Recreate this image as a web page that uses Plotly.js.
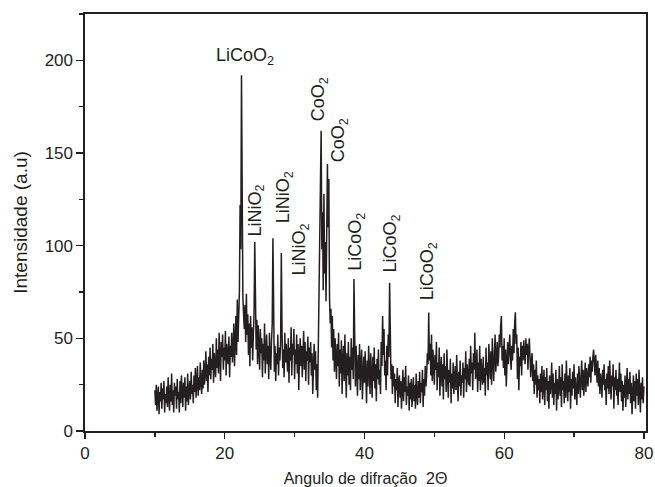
<!DOCTYPE html>
<html>
<head>
<meta charset="utf-8">
<script src="https://cdn.plot.ly/plotly-3.0.1.min.js"></script>
<style>html,body{margin:0;padding:0;background:#fff;}#chart{width:655px;height:487px;}</style>
</head>
<body>
<div id="chart"></div>
<script>
// Diffraction angle sampling (2θ, degrees)
const startAngle = 10;
const angleStep = 0.1;

// Intensity values, one row per degree (10.0 .. 80.0, step 0.1)
const intensity = [
  22, 14, 25, 11, 19, 24, 9, 21, 16, 26,
  12, 23, 17, 27, 10, 20, 15, 24, 13, 29,
  18, 11, 25, 16, 31, 14, 22, 10, 26, 19,
  24, 12, 28, 17, 21, 10, 27, 15, 30, 20,
  13, 26, 18, 29, 11, 24, 16, 31, 14, 22,
  27, 17, 32, 20, 25, 15, 30, 21, 34, 18,
  24, 35, 19, 29, 22, 37, 26, 20, 33, 23,
  38, 25, 31, 43, 27, 36, 21, 40, 30, 45,
  28, 39, 33, 47, 26, 42, 35, 29, 50, 34,
  44, 31, 53, 37, 27, 48, 40, 52, 33, 45,
  38, 54, 30, 47, 42, 36, 51, 29, 46, 40,
  53, 37, 44, 58, 35, 49, 62, 41, 71, 48,
  58, 75, 122, 98, 192, 115, 72, 63, 55, 68,
  48, 74, 52, 63, 41, 58, 35, 62, 45, 56,
  38, 52, 64, 102, 55, 44, 60, 36, 57, 48,
  33, 55, 42, 50, 29, 47, 38, 58, 31, 44,
  52, 36, 46, 28, 53, 40, 33, 49, 58, 104,
  50, 32, 46, 27, 42, 36, 52, 30, 45, 38,
  48, 96, 55, 34, 44, 29, 53, 37, 47, 40,
  32, 50, 26, 45, 38, 56, 30, 47, 41, 55,
  28, 44, 36, 52, 31, 47, 22, 40, 50, 35,
  46, 29, 41, 54, 33, 48, 27, 43, 38, 51,
  25, 45, 37, 48, 30, 42, 20, 39, 47, 33,
  43, 22, 36, 18, 47, 55, 92, 131, 162, 98,
  118, 76, 128, 85, 102, 70, 132, 144, 110, 136,
  72, 58, 66, 45, 62, 38, 55, 32, 50, 41,
  28, 47, 35, 53, 24, 44, 31, 49, 20, 38,
  46, 27, 52, 34, 18, 42, 30, 48, 25, 40,
  22, 50, 33, 45, 28, 82, 39, 24, 46, 31,
  19, 41, 28, 47, 22, 36, 44, 17, 33, 40,
  26, 43, 30, 15, 38, 24, 46, 29, 20, 42,
  32, 18, 40, 27, 45, 23, 36, 16, 39, 28,
  44, 25, 33, 20, 48, 35, 62, 41, 55, 30,
  38, 22, 46, 30, 52, 40, 80, 44, 28, 36,
  20, 35, 24, 31, 15, 28, 22, 34, 13, 26,
  30, 18, 27, 12, 25, 33, 16, 29, 21, 35,
  14, 24, 19, 30, 11, 26, 17, 28, 13, 23,
  29, 16, 25, 12, 31, 20, 14, 27, 18, 32,
  15, 26, 21, 33, 13, 28, 19, 35, 24, 30,
  42, 36, 64, 38, 47, 30, 52, 27, 44, 35,
  25, 41, 33, 48, 22, 37, 29, 45, 19, 34,
  40, 24, 36, 17, 42, 28, 35, 21, 44, 30,
  18, 33, 26, 39, 15, 31, 23, 37, 20, 28,
  35, 22, 41, 27, 16, 32, 24, 38, 19, 30,
  26, 37, 18, 34, 28, 43, 21, 36, 30, 25,
  39, 24, 46, 31, 37, 22, 42, 33, 53, 28,
  32, 44, 21, 37, 27, 46, 22, 39, 31, 25,
  40, 26, 34, 19, 45, 30, 37, 22, 47, 33,
  28, 43, 25, 50, 34, 27, 41, 52, 32, 38,
  48, 35, 40, 52, 45, 57, 62, 38, 46, 34,
  50, 30, 44, 24, 38, 48, 36, 45, 52, 40,
  33, 46, 38, 55, 42, 58, 64, 47, 52, 28,
  45, 22, 40, 35, 48, 30, 46, 38, 49, 42,
  36, 50, 41, 47, 33, 44, 50, 40, 29, 38,
  42, 27, 36, 20, 33, 25, 38, 18, 30, 22,
  28, 15, 31, 21, 35, 17, 26, 33, 14, 29,
  22, 34, 16, 27, 12, 30, 20, 25, 37, 18,
  31, 14, 26, 20, 33, 11, 28, 17, 24, 35,
  19, 29, 13, 36, 22, 27, 15, 31, 18, 38,
  25, 16, 30, 21, 34, 12, 28, 19, 32, 23,
  36, 17, 29, 24, 14, 31, 20, 35, 26, 18,
  30, 38, 22, 33, 19, 27, 37, 21, 34, 28,
  24, 36, 29, 40, 26, 38, 32, 40, 44, 37,
  30, 41, 35, 26, 38, 24, 34, 20, 31, 27,
  18, 33, 25, 36, 22, 28, 14, 31, 23, 35,
  20, 38, 27, 17, 30, 24, 36, 12, 29, 22,
  33, 19, 28, 14, 26, 37, 21, 31, 16, 27,
  11, 25, 18, 30, 13, 23, 34, 17, 28, 20,
  32, 15, 26, 9, 24, 30, 16, 27, 12, 31,
  19, 28, 14, 33, 21, 10, 26, 17, 29, 15,
  24
];

// Phase labels
const peakLabels = ["LiCoO<sub>2</sub>", "LiNiO<sub>2</sub>", "LiNiO<sub>2</sub>", "LiNiO<sub>2</sub>",
                    "CoO<sub>2</sub>", "CoO<sub>2</sub>", "LiCoO<sub>2</sub>", "LiCoO<sub>2</sub>", "LiCoO<sub>2</sub>"];
const labelAngles = [22.9, 24.5, 28.6, 30.8, 33.5, 36.4, 38.9, 43.9, 49.2];
const labelHeights = [202, 119, 126, 98, 179, 157, 102, 101, 86];
const labelRotations = [0, -90, -90, -90, -90, -90, -90, -90, -90];

const xTicks = [0, 20, 40, 60, 80];
const yTicks = [0, 50, 100, 150, 200];

const font = "Arial, 'Liberation Sans', Helvetica, sans-serif";
const ink = "#231f20";

const trace = {
  type: "scatter",
  mode: "lines",
  x0: startAngle,
  dx: angleStep,
  y: intensity,
  line: {color: ink, width: 1.5},
  hoverinfo: "skip"
};

const annotations = peakLabels.map((t, i) => ({
  x: labelAngles[i], y: labelHeights[i], xref: "x", yref: "y",
  text: t, showarrow: false, textangle: labelRotations[i],
  font: {family: font, size: 18, color: ink}
}));

const layout = {
  width: 655, height: 487,
  margin: {l: 85, r: 9, t: 14, b: 56},
  paper_bgcolor: "#fff", plot_bgcolor: "#fff",
  showlegend: false,
  font: {family: font, size: 17, color: ink},
  xaxis: {
    range: [0, 80.3], tickvals: xTicks, ticktext: xTicks.map(String),
    ticks: "outside", ticklen: 6, tickwidth: 1.3, tickcolor: ink,
    minor: {tickvals: [10, 30, 50, 70], ticks: "outside", ticklen: 4, tickwidth: 1.3, tickcolor: ink},
    showgrid: false, zeroline: false,
    showline: true, linecolor: ink, linewidth: 1.6, mirror: true,
    tickfont: {family: font, size: 17, color: ink},
    title: {text: "Angulo de difração  2Θ", font: {family: font, size: 16, color: ink}, standoff: 12}
  },
  yaxis: {
    range: [0, 225], tickvals: yTicks, ticktext: yTicks.map(String),
    ticks: "outside", ticklen: 7, tickwidth: 1.3, tickcolor: ink,
    minor: {tickvals: [25, 75, 125, 175, 225], ticks: "outside", ticklen: 4, tickwidth: 1.3, tickcolor: ink},
    showgrid: false, zeroline: false,
    showline: true, linecolor: ink, linewidth: 1.6, mirror: true,
    tickfont: {family: font, size: 17, color: ink},
    title: {text: "Intensidade (a.u)", font: {family: font, size: 19, color: ink}, standoff: 12}
  },
  annotations: annotations
};

Plotly.newPlot("chart", [trace], layout, {displayModeBar: false, staticPlot: true});
</script>
</body>
</html>
